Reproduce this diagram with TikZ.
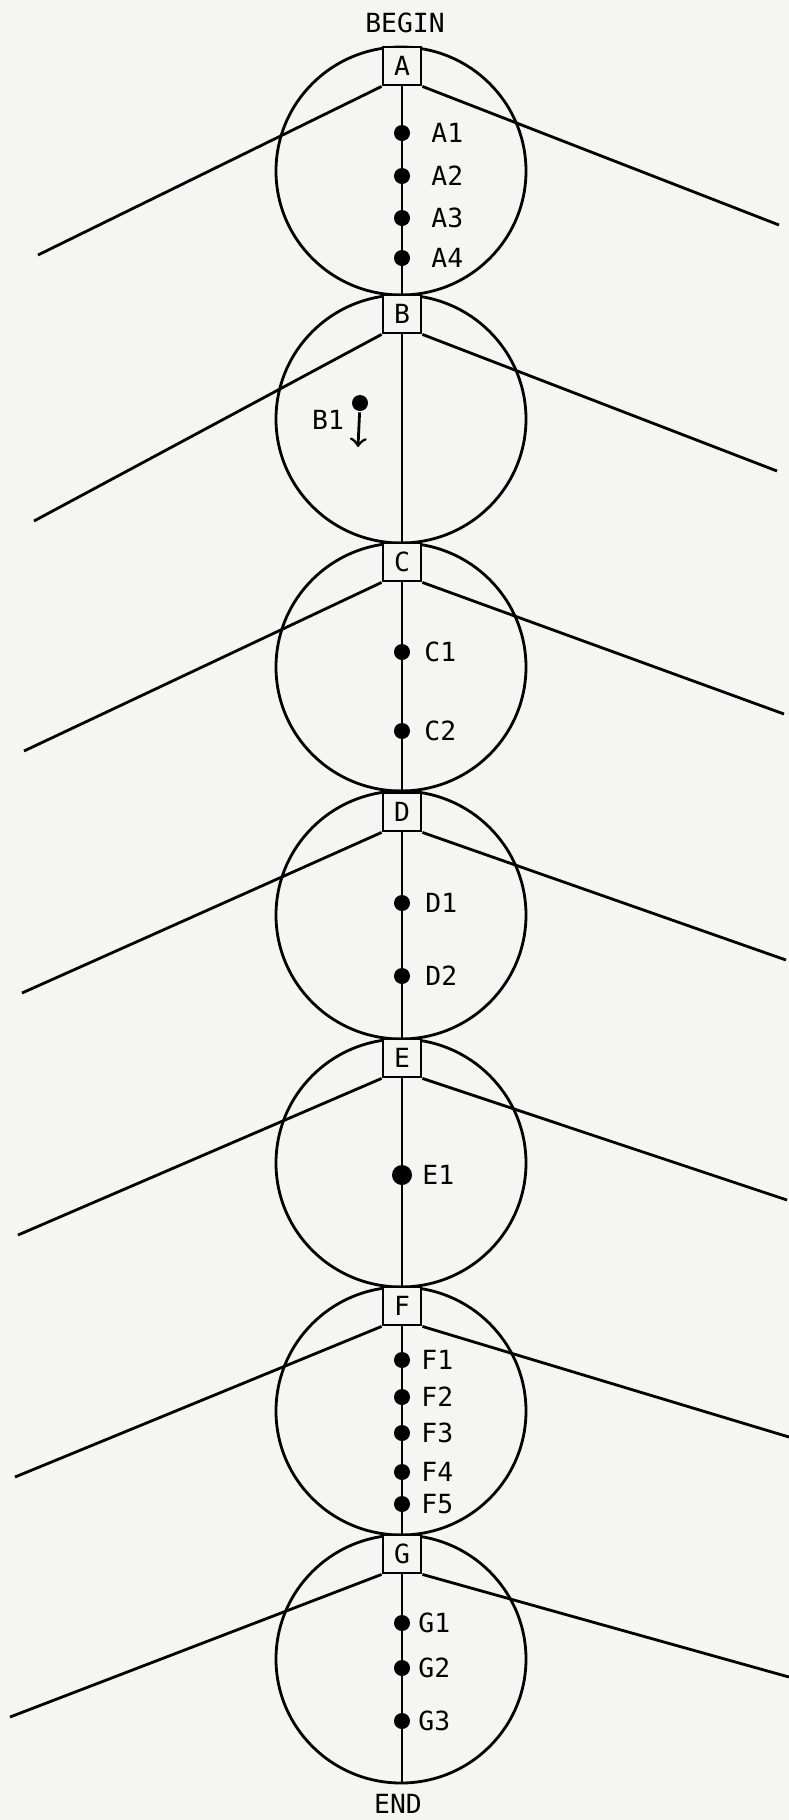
\documentclass[tikz,border=0pt]{standalone}
\usepackage{fontspec}
\setmainfont{DejaVu Sans Mono}
\definecolor{paper}{RGB}{245,245,244}
\begin{document}
\begin{tikzpicture}[x=0.01cm, y=-0.01cm, line width=0.8pt, >=to,
    font=\fontsize{7.5}{9}\selectfont,
    stage/.style={draw, fill=paper, minimum width=0.38cm, minimum height=0.38cm, inner sep=0pt},
    dot/.style={circle, fill, inner sep=0pt, minimum size=0.16cm},
    tag/.style={anchor=west, inner sep=0pt}]
    % hoja
    \fill[paper] (0,0) rectangle (789,1820);
    \useasboundingbox (0,0) rectangle (789,1820);

    % circulos
    \foreach \cy in {171,419,...,1659}
        \draw (401,\cy) ellipse [x radius=125, y radius=124];

    % cajas de etapa
    \foreach \s/\t in {A/47,B/295,C/543,D/793,E/1039,F/1287,G/1535}
        \node[stage] (\s) at (402,\t+19) {\s};

    % brazos laterales
    \foreach \s/\lx/\ly/\rx/\ry in {A/38/255/779/225, B/34/521/777/471,
            C/24/751/784/714, D/22/993/786/960, E/18/1235/787/1200,
            F/15/1477/789/1437, G/10/1717/789/1677} {
        \coordinate (l\s) at (\lx,\ly);
        \coordinate (r\s) at (\rx,\ry);
        \draw (\s.south west) -- (l\s);
        \draw (\s.south east) -- (r\s);
    }

    % eje vertical
    \coordinate (tail) at (402,1783);
    \foreach \u/\v in {A/B,B/C,C/D,D/E,E/F,F/G}
        \draw (\u) -- (\v);
    \draw (G) -- (tail);

    % puntos
    \foreach \n/\y/\lx in {A1/133/430, A2/176/430, A3/218/430, A4/258/430,
            C1/652/423, C2/731/423, D1/903/424, D2/976/424,
            F1/1360/420, F2/1397/420, F3/1433/420, F4/1472/420, F5/1504/420,
            G1/1623/417, G2/1668/417, G3/1721/417} {
        \node[dot] (\n) at (402,\y) {};
        \node[tag] (\n t) at (\lx,\y) {\n};
    }
    \node[dot, minimum size=0.2cm] (E1) at (402,1175) {};
    \node[tag] (E1t) at (421,1175) {E1};

    % B1 con flecha
    \node[dot] (B1) at (360,403) {};
    \coordinate (B1e) at (358,447);
    \draw[->] (B1) -- (B1e);
    \node (B1t) at (328,420) {B1};

    % inicio y fin
    \node (begin) at (405,23) {BEGIN};
    \node (end) at (398,1804) {END};
\end{tikzpicture}
\end{document}
